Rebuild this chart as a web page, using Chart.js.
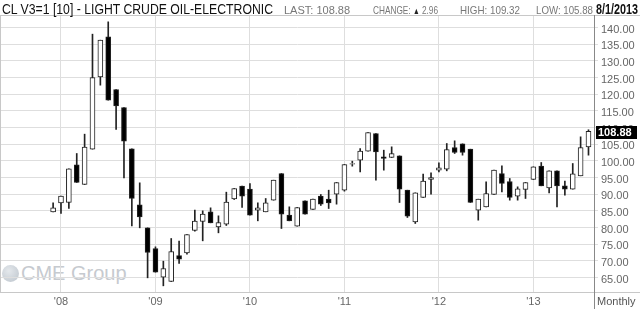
<!DOCTYPE html>
<html>
<head>
<meta charset="utf-8">
<script src="https://cdn.jsdelivr.net/npm/chart.js@4.4.0/dist/chart.umd.min.js"></script>
<style>
  html, body { margin: 0; padding: 0; background: #fff; }
  #wrap { position: relative; width: 640px; height: 309px; overflow: hidden;
    font-family: "Liberation Sans", Arial, sans-serif; }
  #wrap canvas { position: absolute; left: 0; top: 0; }
  .hd { position: absolute; top: 1px; white-space: nowrap; transform-origin: 0 0; }
  #title { left: 2px; font-size: 14px; color: #111; }
  .stat { font-size: 11px; color: #777; top: 4px; }
  #date { left: 596px; font-size: 14px; font-weight: bold; color: #111; }
  #logo { position: absolute; left: 2px; top: 262px; color: #c6cacf; font-size: 20px; white-space: nowrap; }
  #logo .dot { display: inline-block; width: 17px; height: 17px; border-radius: 50%;
    background: radial-gradient(circle at 40% 35%, #e4e8ec, #bcc4cc); vertical-align: -2px; margin-right: 2px; }
  #monthly { position: absolute; left: 597px; top: 295px; font-size: 11px; color: #555; }
</style>
</head>
<body>
<div id="wrap">
  <div id="logo"><span class="dot"></span>CME Group</div>
  <canvas id="c" width="640" height="309"></canvas>
  <div class="hd" id="title">CL V3=1 [10] - LIGHT CRUDE OIL-ELECTRONIC</div>
  <div class="hd stat" id="s-last" style="left:284px">LAST: 108.88</div>
  <div class="hd stat" id="s-chg" style="left:373px">CHANGE: <span style="color:#222;font-size:9px">&#9650;</span> 2.96</div>
  <div class="hd stat" id="s-high" style="left:460px">HIGH: 109.32</div>
  <div class="hd stat" id="s-low" style="left:536px">LOW: 105.88</div>
  <div class="hd" id="date">8/1/2013</div>
  <div id="monthly">Monthly</div>
</div>
<script>
// monthly candles, Dec 2007 .. Aug 2013
const months = [
  "2007-12",
  "2008-01","2008-02","2008-03","2008-04","2008-05","2008-06","2008-07","2008-08","2008-09","2008-10","2008-11","2008-12",
  "2009-01","2009-02","2009-03","2009-04","2009-05","2009-06","2009-07","2009-08","2009-09","2009-10","2009-11","2009-12",
  "2010-01","2010-02","2010-03","2010-04","2010-05","2010-06","2010-07","2010-08","2010-09","2010-10","2010-11","2010-12",
  "2011-01","2011-02","2011-03","2011-04","2011-05","2011-06","2011-07","2011-08","2011-09","2011-10","2011-11","2011-12",
  "2012-01","2012-02","2012-03","2012-04","2012-05","2012-06","2012-07","2012-08","2012-09","2012-10","2012-11","2012-12",
  "2013-01","2013-02","2013-03","2013-04","2013-05","2013-06","2013-07","2013-08"
];
const opens = [
  84.7,
  87.4, 87.5, 98.8, 92.9, 103.5, 125.2, 137.2, 121.4, 116.0, 103.6, 86.8, 79.9,
  73.7, 65.1, 63.8, 71.6, 72.4, 79.1, 81.8, 84.7, 80.2, 81.0, 88.6, 92.4,
  91.5, 85.2, 84.7, 88.2, 96.2, 83.7, 80.4, 88.0, 85.4, 89.4, 88.5, 90.0,
  91.2, 99.0, 100.2, 102.9, 108.2, 101.2, 101.0, 101.5, 91.2, 81.7, 89.0, 94.4,
  97.2, 97.5, 104.0, 105.1, 103.5, 85.2, 86.2, 89.9, 96.2, 93.8, 89.4, 91.4,
  94.4, 98.4, 91.9, 97.0, 92.5, 91.5, 95.5, 104.2
];
const highs = [
  87.4,
  89.4, 97.6, 102.2, 108.0, 138.0, 136.2, 141.7, 121.4, 116.0, 103.6, 93.4, 79.9,
  74.2, 69.9, 76.7, 75.9, 77.9, 85.2, 85.0, 85.9, 83.5, 90.6, 91.7, 92.4,
  93.2, 87.4, 88.7, 94.2, 96.2, 86.2, 86.0, 88.0, 88.5, 89.9, 91.2, 93.5,
  98.9, 99.9, 103.7, 108.5, 108.2, 103.2, 104.2, 101.5, 91.2, 90.4, 96.0, 96.4,
  99.4, 105.2, 106.0, 105.1, 103.5, 88.5, 93.7, 97.2, 98.5, 94.7, 92.2, 93.5,
  98.2, 99.5, 97.0, 97.0, 93.9, 99.2, 107.2, 109.32
];
const lows = [
  84.7,
  84.2, 85.7, 93.5, 92.9, 103.5, 122.7, 118.2, 109.4, 94.9, 80.5, 79.9, 64.9,
  66.6, 62.5, 63.8, 69.2, 72.0, 78.9, 76.0, 81.4, 78.4, 80.6, 88.4, 86.0,
  83.7, 82.0, 84.7, 88.2, 79.7, 82.0, 80.4, 84.0, 85.4, 86.6, 85.7, 87.0,
  90.9, 98.4, 96.7, 102.9, 94.2, 97.2, 101.0, 87.5, 83.0, 81.2, 89.0, 90.0,
  96.7, 97.0, 102.2, 101.7, 87.5, 82.2, 86.2, 89.9, 90.7, 88.2, 88.2, 88.7,
  94.4, 92.5, 90.4, 86.2, 89.7, 91.5, 95.5, 101.7
];
const closes = [
  85.9,
  89.4, 97.6, 93.5, 104.1, 125.0, 136.2, 118.2, 116.5, 105.9, 88.7, 83.2, 72.5,
  66.6, 67.7, 72.8, 70.5, 77.9, 81.9, 84.0, 81.4, 81.5, 87.6, 91.7, 89.4,
  83.7, 85.9, 87.4, 94.2, 84.0, 82.0, 86.0, 84.0, 88.5, 87.0, 87.4, 93.5,
  98.9, 99.2, 102.9, 108.5, 102.7, 100.7, 102.2, 91.5, 83.4, 90.4, 93.9, 95.0,
  97.9, 103.4, 102.5, 102.5, 87.5, 88.5, 90.2, 97.2, 93.2, 89.0, 91.6, 93.5,
  98.2, 92.5, 97.0, 92.5, 91.5, 96.1, 104.0, 108.88
];
const yearTickMonths = [0, 12, 24, 36, 48, 60];        // Januaries, counted from Jan 2008
const yearLabels = ["'08", "'09", "'10", "'11", "'12", "'13"];
const priceTicks = [65, 70, 75, 80, 85, 90, 95, 100, 105, 110, 115, 120, 125, 130, 135, 140];
const lastPrice = 108.88;

// month index relative to Jan 2008
const monthIdx = (s) => {
  const [y, m] = s.split("-").map(Number);
  return (y - 2008) * 12 + (m - 1);
};

const bodies = months.map((m, i) => ({ x: monthIdx(m), y: [opens[i], closes[i]] }));
const wicks = months.map((m, i) => ({ x: monthIdx(m), y: [lows[i], highs[i]] }));
const isUp = months.map((m, i) => closes[i] >= opens[i]);

const GRID = "#dedede";
const LABEL = "#666";

// header text in the reference is a condensed face: squeeze to the measured width
function squeeze(id, width) {
  const el = document.getElementById(id);
  const w = el.getBoundingClientRect().width;
  if (w > width) el.style.transform = `scaleX(${width / w})`;
}
squeeze("title", 271);
squeeze("s-last", 67);
squeeze("s-chg", 65);
squeeze("s-high", 60);
squeeze("s-low", 57);
squeeze("date", 42);

// frame lines + last price tag
const framePlugin = {
  id: "frame",
  afterDraw(chart) {
    const ctx = chart.ctx, a = chart.chartArea, y = chart.scales.y;
    ctx.save();
    ctx.strokeStyle = "#c8c8c8";
    ctx.lineWidth = 1;
    ctx.beginPath();
    ctx.moveTo(0, a.top + 0.5); ctx.lineTo(640, a.top + 0.5);
    ctx.moveTo(0, a.bottom + 0.5); ctx.lineTo(640, a.bottom + 0.5);
    ctx.moveTo(0.5, a.top); ctx.lineTo(0.5, a.bottom);
    ctx.stroke();
    ctx.strokeStyle = "#888";
    ctx.beginPath();
    ctx.moveTo(a.right + 0.5, a.top); ctx.lineTo(a.right + 0.5, 309);
    ctx.stroke();

    const py = Math.round(y.getPixelForValue(lastPrice));
    ctx.fillStyle = "#000";
    ctx.fillRect(a.right + 2, py - 5, 41, 13);
    ctx.fillStyle = "#fff";
    ctx.font = "bold 11px 'Liberation Sans', Arial, sans-serif";
    ctx.textBaseline = "middle";
    ctx.fillText(lastPrice.toFixed(2), a.right + 4, py + 2);
    ctx.restore();
  },
};

new Chart(document.getElementById("c"), {
  type: "bar",
  data: {
    datasets: [
      {
        data: bodies,
        backgroundColor: isUp.map((u) => (u ? "#fff" : "#000")),
        borderColor: "#222",
        borderWidth: 1,
        borderSkipped: false,
        barThickness: 5,
        grouped: false,
        order: 1,
      },
      {
        data: wicks,
        backgroundColor: "#222",
        borderWidth: 0,
        barThickness: 1,
        grouped: false,
        order: 2,
      },
    ],
  },
  plugins: [framePlugin],
  options: {
    responsive: false,
    animation: false,
    layout: { padding: { left: 1, top: 15, right: 0, bottom: 0 } },
    plugins: { legend: { display: false }, tooltip: { enabled: false } },
    scales: {
      x: {
        type: "linear",
        offset: false,
        min: -7.62,
        max: 67.7,
        afterBuildTicks: (s) => { s.ticks = yearTickMonths.map((v) => ({ value: v })); },
        afterFit: (s) => { s.height = 17; },
        ticks: {
          callback: (v) => yearLabels[yearTickMonths.indexOf(v)],
          color: LABEL,
          font: { size: 11, family: "'Liberation Sans', Arial, sans-serif" },
          padding: 3,
          maxRotation: 0,
          autoSkip: false,
        },
        grid: { color: GRID, drawTicks: false, offset: false },
        border: { display: false },
      },
      y: {
        type: "linear",
        position: "right",
        min: 60.65,
        max: 143.75,
        afterBuildTicks: (s) => { s.ticks = priceTicks.map((v) => ({ value: v })); },
        afterFit: (s) => { s.width = 46; },
        ticks: {
          callback: (v) => Number(v).toFixed(2),
          color: LABEL,
          font: { size: 11, family: "'Liberation Sans', Arial, sans-serif" },
          padding: 3,
          labelOffset: 2,
        },
        grid: { color: GRID, tickLength: 4 },
        border: { display: false },
      },
    },
  },
});
</script>
</body>
</html>
